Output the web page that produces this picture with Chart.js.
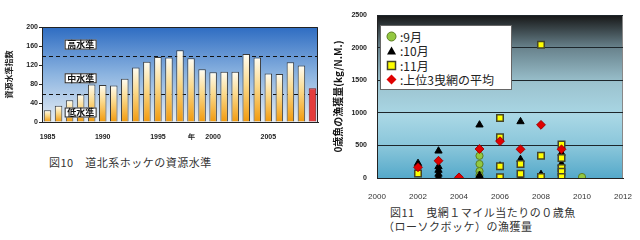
<!DOCTYPE html>
<html lang="ja">
<head>
<meta charset="utf-8">
<script src="https://cdn.jsdelivr.net/npm/chart.js@4/dist/chart.umd.min.js"></script>
<style>
  body { margin: 0; width: 640px; height: 240px; background: #fff; position: relative; overflow: hidden;
         font-family: "Noto Sans CJK JP", sans-serif; }
  #left { position: absolute; left: 0; top: 0; }
  #right { position: absolute; left: 330px; top: 0; }
  .cap { position: absolute; font-size: 11px; color: #333; white-space: pre; line-height: 14px; letter-spacing: 0.5px; }
  #legend { position: absolute; left: 380px; top: 25px; width: 132px; height: 65px; background: #fff;
            border: 1px solid #666; box-sizing: border-box; padding: 3px 0 0 5px; }
  #legend div { height: 14.5px; display: flex; align-items: center; font-size: 12px; color: #222; }
  #legend svg { margin-right: 3px; }
</style>
</head>
<body>
<canvas id="left" width="320" height="140"></canvas>
<canvas id="right" width="310" height="200"></canvas>
<div id="legend"></div>
<div class="cap" style="left:49px; top:155px;">図10　道北系ホッケの資源水準</div>
<div class="cap" style="left:390px; top:205px;">図11　曳網１マイル当たりの０歳魚</div>
<div class="cap" style="left:383px; top:219px;">（ローソクボッケ）の漁獲量</div>
<script>
// 図10 資源水準指数（1985〜2009年）
const years = ['1985', '1986', '1987', '1988', '1989', '1990', '1991', '1992', '1993', '1994',
               '1995', '1996', '1997', '1998', '1999', '2000', '2001', '2002', '2003', '2004',
               '2005', '2006', '2007', '2008', '2009'];
const levelIndex = [25, 34, 46, 58, 79, 78, 77, 91, 115, 127,
                    137, 136, 151, 134, 111, 105, 106, 106, 143, 136,
                    102, 101, 126, 119, 71];
const levelLines = [140, 60];
const levelNames = ['高水準', '中水準', '低水準'];
const yearTicks = ['1985', '1990', '1995', '2000', '2005'];

// 図11 0歳魚の漁獲量 [年, kg/N.M.]
const sep = [[2005, 340], [2005, 215], [2005, 105], [2005, 45], [2006, 615], [2010, 15]];
const oct = [[2002, 225], [2003, 415], [2003, 175], [2003, 120], [2003, 60], [2003, 10],
             [2005, 815], [2005, 40], [2005, 5], [2006, 185], [2007, 865], [2007, 285],
             [2007, 10], [2008, 55], [2009, 380], [2009, 215]];
const nov = [[2002, 70], [2006, 920], [2006, 625], [2006, 180], [2006, 10], [2007, 215],
             [2007, 65], [2008, 2045], [2008, 340], [2008, 15], [2009, 515], [2009, 305],
             [2009, 155], [2009, 95], [2009, 15]];
const top3 = [[2002, 165], [2003, 265], [2004, 10], [2005, 445], [2006, 565], [2007, 440],
              [2008, 815], [2009, 440]];
const seriesNames = [':9月', ':10月', ':11月', ':上位3曳網の平均'];

// 左：背景・水準線・水準ラベル
const levelDeco = {
    id: 'levelDeco',
    beforeDraw(chart) {
        const { ctx, chartArea: a } = chart;
        const g = ctx.createLinearGradient(0, a.top, 0, a.bottom);
        g.addColorStop(0, '#2e6cc2');
        g.addColorStop(0.5, '#8cb4e0');
        g.addColorStop(1, '#e6edf4');
        ctx.save();
        ctx.fillStyle = g;
        ctx.fillRect(a.left, a.top, a.right - a.left, a.bottom - a.top);
        ctx.restore();
    },
    beforeDatasetsDraw(chart) {
        const { ctx, chartArea: a, scales: { y } } = chart;
        ctx.save();
        ctx.strokeStyle = '#111';
        ctx.lineWidth = 1;
        ctx.setLineDash([4, 3]);
        levelLines.forEach(v => {
            const py = Math.round(y.getPixelForValue(v)) + 0.5;
            ctx.beginPath();
            ctx.moveTo(a.left, py);
            ctx.lineTo(a.right, py);
            ctx.stroke();
        });
        ctx.restore();
    },
    afterDatasetsDraw(chart) {
        const { ctx, chartArea: a, scales: { x, y } } = chart;
        ctx.save();
        // 枠線
        ctx.strokeStyle = '#222';
        ctx.beginPath();
        ctx.moveTo(a.left, a.top + 0.5);
        ctx.lineTo(a.right - 0.5, a.top + 0.5);
        ctx.lineTo(a.right - 0.5, a.bottom);
        ctx.stroke();
        // 水準ラベル
        const cx = x.getPixelForValue(3);
        const at = [163, 92, 20];
        ctx.font = 'bold 9px "Noto Sans CJK JP"';
        ctx.textAlign = 'center';
        ctx.textBaseline = 'middle';
        levelNames.forEach((name, i) => {
            const cy = y.getPixelForValue(at[i]);
            ctx.fillStyle = '#fff';
            ctx.fillRect(cx - 16, cy - 5, 32, 10);
            ctx.strokeStyle = '#222';
            ctx.strokeRect(cx - 16 + 0.5, cy - 5 + 0.5, 31, 9);
            ctx.fillStyle = '#111';
            ctx.fillText(name, cx, cy);
        });
        ctx.restore();
    }
};

new Chart(document.getElementById('left'), {
    type: 'bar',
    data: {
        labels: years,
        datasets: [{
            data: levelIndex,
            backgroundColor(c) {
                const chart = c.chart;
                if (c.dataIndex === levelIndex.length - 1) return '#e43c3c';
                if (!chart.chartArea || c.type !== 'data') return '#f4a21c';
                const y = chart.scales.y;
                const g = chart.ctx.createLinearGradient(0, y.getPixelForValue(c.raw), 0, y.getPixelForValue(0));
                g.addColorStop(0, '#fffdf3');
                g.addColorStop(0.45, '#fbd98a');
                g.addColorStop(1, '#f29a0c');
                return g;
            },
            borderColor(c) { return c.dataIndex === levelIndex.length - 1 ? '#8a1c1c' : '#3a3a3a'; },
            borderWidth: 1,
            barPercentage: 0.68,
            categoryPercentage: 1
        }]
    },
    options: {
        responsive: false,
        animation: false,
        layout: { padding: { top: 27, right: 2, left: 0, bottom: 0 } },
        plugins: { legend: { display: false }, tooltip: { enabled: false } },
        scales: {
            x: {
                grid: { display: false },
                border: { color: '#222' },
                ticks: {
                    autoSkip: false, maxRotation: 0, padding: 3, color: '#222',
                    font: { size: 7, weight: 'bold', family: 'Liberation Sans' },
                    callback(v) {
                        const lab = years[v];
                        if (lab === '1998') return '年';
                        return yearTicks.includes(lab) ? lab : '';
                    }
                },
                afterFit(s) { s.height = 18; }
            },
            y: {
                min: 0, max: 200,
                grid: { drawOnChartArea: false, tickLength: 3, color: '#222' },
                border: { color: '#222' },
                ticks: { stepSize: 20, padding: 1, color: '#222', font: { size: 7, weight: 'bold', family: 'Liberation Sans' } },
                title: { display: true, text: '資源水準指数', color: '#222', padding: { top: 4, bottom: 0 },
                         font: { size: 8, weight: 'bold', family: 'Noto Sans CJK JP' } },
                afterFit(s) { s.width = 42; }
            }
        }
    },
    plugins: [levelDeco]
});

// 右：背景
const waterBg = {
    id: 'waterBg',
    beforeDraw(chart) {
        const { ctx, chartArea: a } = chart;
        const g = ctx.createLinearGradient(0, a.top, 0, a.bottom);
        g.addColorStop(0, '#161616');
        g.addColorStop(0.2, '#68828c');
        g.addColorStop(0.42, '#9cc3cf');
        g.addColorStop(0.62, '#a9d7e5');
        g.addColorStop(0.82, '#86c4d9');
        g.addColorStop(1, '#55a9ca');
        ctx.save();
        ctx.fillStyle = g;
        ctx.fillRect(a.left, a.top, a.right - a.left, a.bottom - a.top);
        ctx.strokeStyle = '#888';
        ctx.beginPath();
        ctx.moveTo(a.right - 0.5, a.top);
        ctx.lineTo(a.right - 0.5, a.bottom);
        ctx.stroke();
        ctx.restore();
    }
};

const toXY = pts => pts.map(([x, y]) => ({ x, y }));

new Chart(document.getElementById('right'), {
    type: 'scatter',
    data: {
        datasets: [
            { label: seriesNames[0], data: toXY(sep), pointStyle: 'circle', pointRadius: 3.6,
              backgroundColor: '#93c840', borderColor: '#5b7d22', borderWidth: 1, order: 4 },
            { label: seriesNames[1], data: toXY(oct), pointStyle: 'triangle', pointRadius: 4.2,
              backgroundColor: '#000', borderColor: '#000', borderWidth: 1, order: 3 },
            { label: seriesNames[2], data: toXY(nov), pointStyle: 'rect', pointRadius: 4.6,
              backgroundColor: '#ffff00', borderColor: '#44442a', borderWidth: 1.5, order: 2 },
            { label: seriesNames[3], data: toXY(top3), pointStyle: 'rectRot', pointRadius: 4.4,
              backgroundColor: '#e00000', borderColor: '#a00000', borderWidth: 1, order: 1 }
        ]
    },
    options: {
        responsive: false,
        animation: false,
        layout: { padding: { top: 15, right: 17, left: 0, bottom: 0 } },
        plugins: { legend: { display: false }, tooltip: { enabled: false } },
        scales: {
            x: {
                type: 'linear', min: 2000, max: 2012,
                grid: { display: false },
                border: { color: '#222' },
                ticks: { stepSize: 2, padding: 6, color: '#333', maxRotation: 0,
                         font: { size: 8, family: 'Liberation Sans' },
                         callback: v => String(v) },
                afterFit(s) { s.height = 22; }
            },
            y: {
                min: 0, max: 2500,
                grid: { color: '#1d262b', drawTicks: false },
                border: { color: '#222' },
                ticks: { stepSize: 500, padding: 10, color: '#222',
                         font: { size: 7, weight: 'bold', family: 'Liberation Sans' },
                         callback: v => String(v) },
                title: { display: true, text: '0歳魚の漁獲量(kg/N.M.)', color: '#111', padding: { top: 2, bottom: 0 },
                         font: { size: 10, weight: 'bold', family: 'Noto Sans CJK JP' } },
                afterFit(s) { s.width = 47; }
            }
        }
    },
    plugins: [waterBg]
});

// 凡例
const markers = [
    '<svg width="11" height="11"><circle cx="5.5" cy="5.5" r="4.5" fill="#93c840" stroke="#5b7d22"/></svg>',
    '<svg width="11" height="11"><polygon points="5.5,1.5 10,9.5 1,9.5" fill="#000"/></svg>',
    '<svg width="11" height="11"><rect x="1.5" y="1.5" width="8" height="8" fill="#ffff00" stroke="#44442a" stroke-width="1.5"/></svg>',
    '<svg width="11" height="11"><polygon points="5.5,0.5 10.5,5.5 5.5,10.5 0.5,5.5" fill="#e00000"/></svg>'
];
document.getElementById('legend').innerHTML = seriesNames
    .map((name, i) => `<div>${markers[i]}<span>${name}</span></div>`).join('');
</script>
</body>
</html>
